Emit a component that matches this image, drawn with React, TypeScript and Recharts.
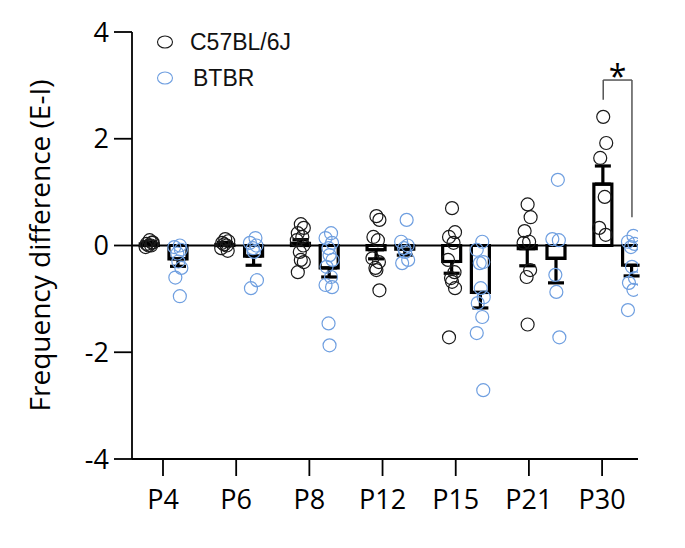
import React from 'react';
import {
  ComposedChart, Bar, Scatter, ErrorBar, XAxis, YAxis, ReferenceLine,
} from 'recharts';

const AGES = ['P4', 'P6', 'P8', 'P12', 'P15', 'P21', 'P30'];

// individual animals, per age
const C57_POINTS = [
  [0.1, 0.06, 0.03, 0.0, -0.03, 0.05, 0.0],
  [0.12, 0.08, 0.05, 0.0, -0.05, -0.1, 0.02],
  [0.4, 0.33, 0.23, 0.16, 0.1, 0.0, -0.12, -0.27, -0.31, -0.5],
  [0.55, 0.48, 0.16, 0.1, -0.24, -0.31, -0.42, -0.46, -0.84],
  [0.7, 0.25, 0.16, 0.05, -0.27, -0.5, -0.61, -0.68, -0.8, -1.72],
  [0.77, 0.53, 0.27, 0.07, 0.05, -0.46, -0.59, -1.48],
  [2.41, 1.92, 1.64, 0.91, 0.33, 0.2],
];
const BTBR_POINTS = [
  [0.0, -0.03, -0.08, -0.15, -0.3, -0.42, -0.6, -0.95],
  [0.14, 0.05, 0.0, -0.05, -0.12, -0.65, -0.8],
  [0.23, 0.14, 0.05, -0.05, -0.18, -0.27, -0.4, -0.59, -0.74, -0.78, -1.46, -1.87],
  [0.48, 0.07, 0.0, -0.05, -0.12, -0.27, -0.33],
  [0.07, -0.08, -0.31, -0.33, -0.8, -0.97, -1.08, -1.34, -1.64, -2.71],
  [1.23, 0.12, 0.1, -0.55, -0.87, -1.72],
  [0.18, 0.07, 0.03, -0.03, -0.4, -0.61, -0.7, -0.83, -1.21],
];

// mean and SEM
const C57_MEAN = [0.03, 0.02, 0.04, -0.08, -0.3, -0.06, 1.15];
const C57_SEM = [0.04, 0.04, 0.07, 0.17, 0.22, 0.32, 0.34];
const BTBR_MEAN = [-0.25, -0.2, -0.42, -0.07, -0.88, -0.24, -0.37];
const BTBR_SEM = [0.14, 0.17, 0.17, 0.11, 0.29, 0.46, 0.2];

const Y_TICKS = [-4, -2, 0, 2, 4];

const BLACK = '#1a1a1a';
const BLUE = '#6f9fe0';
const OFF = 0.19;
const FONT = '"Open Sans", sans-serif';
// the tick marks in the original sit on a slightly tighter pitch than the groups
const TICK_PITCH = 0.968;
const TICK_START = -0.013;
const X_TICKS = AGES.map((_, i) => TICK_START + TICK_PITCH * i);
// small fixed pixel nudge so stacked rings don't sit in one column
const NUDGE = [0, 3, -3, 1.5, -4, 2.5, -1];

const oneSided = (m: number, e: number) => (m >= 0 ? [0, e] : [e, 0]);

const barRows = AGES.flatMap((_, i) => [
  { x: i - OFF, mean: C57_MEAN[i], err: oneSided(C57_MEAN[i], C57_SEM[i]) },
  { x: i + OFF, mean: BTBR_MEAN[i], err: oneSided(BTBR_MEAN[i], BTBR_SEM[i]) },
]);

const c57Dots = C57_POINTS.flatMap((vals, i) => vals.map((v, k) => ({ x: i - OFF, v, k })));
const btbrDots = BTBR_POINTS.flatMap((vals, i) => vals.map((v, k) => ({ x: i + OFF, v, k: k + 3 })));

const ring = (color: string) => (p: any) => (
  <circle
    cx={p.cx + NUDGE[(p.payload?.k ?? 0) % NUDGE.length]}
    cy={p.cy}
    r={6.5}
    fill="none"
    stroke={color}
    strokeWidth={1.2}
  />
);

const LegendBox = () => (
  <div
    style={{
      position: 'absolute', left: 155, top: 24,
      fontFamily: '"Liberation Sans", Arial, sans-serif', fontSize: 23, color: '#111',
    }}
  >
    {[['C57BL/6J', BLACK, 0], ['BTBR', BLUE, 3]].map(([name, color, pad]) => (
      <div key={name as string} style={{ display: 'flex', alignItems: 'center', height: 36 }}>
        <svg width={20} height={16} style={{ marginRight: 15 + (pad as number) }}>
          <ellipse cx={10} cy={8} rx={7.5} ry={6} fill="none" stroke={color as string} strokeWidth={1.1} />
        </svg>
        <span>{name}</span>
      </div>
    ))}
  </div>
);

export default function App() {
  return (
    <div style={{ position: 'absolute', left: 0, top: 0, width: 685, height: 548, background: '#fff' }}>
      <ComposedChart
        width={685}
        height={548}
        data={barRows}
        margin={{ top: 32, right: 47, bottom: 29, left: 0 }}
      >
        <XAxis
          dataKey="x"
          type="number"
          domain={[-0.423, 6.27]}
          allowDataOverflow
          ticks={X_TICKS}
          interval={0}
          tickFormatter={(u: number) => AGES[Math.round((u - TICK_START) / TICK_PITCH)]}
          height={60}
          tickSize={17}
          tickMargin={14}
          axisLine={{ stroke: '#000', strokeWidth: 1.8 }}
          tickLine={{ stroke: '#000', strokeWidth: 1.8 }}
          tick={{ fill: '#000', fontSize: 27, fontFamily: FONT }}
        />
        <YAxis
          type="number"
          domain={[-4, 4]}
          ticks={Y_TICKS}
          width={132}
          tickSize={18}
          tickMargin={5}
          axisLine={{ stroke: '#000', strokeWidth: 1.8 }}
          tickLine={{ stroke: '#000', strokeWidth: 1.8 }}
          tick={{ fill: '#000', fontSize: 27, fontFamily: FONT }}
          label={{
            value: 'Frequency difference (E-I)',
            angle: -90,
            position: 'insideLeft',
            offset: 40,
            style: { textAnchor: 'middle', fontSize: 28, fontFamily: FONT, fill: '#000' },
          }}
        />
        <ReferenceLine y={0} stroke="#000" strokeWidth={1.8} />
        <Bar
          dataKey="mean"
          barSize={18}
          fill="none"
          stroke="#000"
          strokeWidth={3.2}
          isAnimationActive={false}
        >
          <ErrorBar dataKey="err" width={8} stroke="#000" strokeWidth={3.2} direction="y" />
        </Bar>
        <Scatter
          name="C57BL/6J"
          data={c57Dots}
          dataKey="v"
          shape={ring(BLACK)}
          isAnimationActive={false}
        />
        <Scatter
          name="BTBR"
          data={btbrDots}
          dataKey="v"
          shape={ring(BLUE)}
          isAnimationActive={false}
        />
        <ReferenceLine
          segment={[{ x: 6 - OFF, y: 2.73 }, { x: 6 - OFF, y: 3.1 }]}
          stroke="#555"
          strokeWidth={1.5}
        />
        <ReferenceLine
          segment={[{ x: 6 - OFF, y: 3.1 }, { x: 6 + OFF, y: 3.1 }]}
          stroke="#555"
          strokeWidth={1.5}
          label={{ value: '*', position: 'top', offset: -8, fontSize: 32, fontFamily: FONT, fill: '#000' }}
        />
        <ReferenceLine
          segment={[{ x: 6 + OFF, y: 3.1 }, { x: 6 + OFF, y: 0.53 }]}
          stroke="#555"
          strokeWidth={1.5}
        />
      </ComposedChart>
      <LegendBox />
    </div>
  );
}
